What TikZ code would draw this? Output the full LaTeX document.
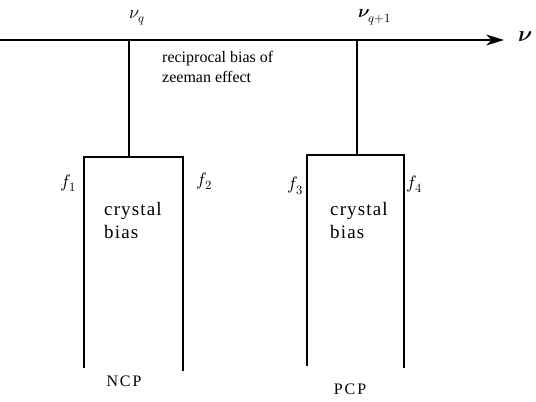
\documentclass[tikz,border=0pt]{standalone}
\usepackage{fontspec}
\usepackage{unicode-math}
\setmainfont{Liberation Serif}
\setmathfont{Latin Modern Math}
\newfontfamily\spaced[LetterSpace=12]{Liberation Serif}
\newfontfamily\crysfont[LetterSpace=6]{Liberation Serif}
\usetikzlibrary{arrows.meta}
\tikzset{
  ln/.style={line width=1.3pt},
  lbl/.style={font=\fontsize{16}{20}\selectfont, inner sep=0pt},
  crys/.style={font=\crysfont\fontsize{19}{23}\selectfont, inner sep=0pt},
  sym/.style={font=\fontsize{18}{20}\selectfont, inner sep=0pt},
  bigsym/.style={font=\fontsize{22}{24}\selectfont, inner sep=0pt},
}
\begin{document}
\begin{tikzpicture}[x=1pt,y=-1pt]
\useasboundingbox (0,0) rectangle (536,402);
% axis
\coordinate (a0) at (0,40);
\coordinate (a1) at (504,40);
\draw[ln,-{Stealth[length=18pt,width=11pt]}] (a0) -- (a1);
\node[bigsym] (nu) at (525,37) {$\symbfit{\nu}$};
\node[sym] (nuq) at (137,18) {$\nu_{q}$};
\node[sym] (nuq1) at (375,17) {$\symbfit{\nu}_{q+1}$};
% connection points
\coordinate (t1) at (129,40);
\coordinate (t2) at (357,40);
\coordinate (b1) at (129,157);
\coordinate (b2) at (357,155);
\draw[ln] (t1) -- (b1);
\draw[ln] (t2) -- (b2);
% left box
\coordinate (l1) at (84,368);
\coordinate (l2) at (84,157);
\coordinate (l3) at (183,157);
\coordinate (l4) at (183,371);
\draw[ln] (l1) -- (l2) -- (l3) -- (l4);
% right box
\coordinate (r1) at (307,366);
\coordinate (r2) at (307,155);
\coordinate (r3) at (404,155);
\coordinate (r4) at (404,368);
\draw[ln] (r1) -- (r2) -- (r3) -- (r4);
% labels
\node[lbl, align=left, anchor=north west] (zee) at (162,51) {reciprocal bias of\\zeeman effect};
\node[sym] (f1) at (68,183) {$f_{1}$};
\node[sym] (f2) at (204,181) {$f_{2}$};
\node[sym] (f3) at (295,186) {$f_{3}$};
\node[sym] (f4) at (414,184) {$f_{4}$};
\node[crys, align=left, anchor=north west] (c1) at (104,202) {crystal\\bias};
\node[crys, align=left, anchor=north west] (c2) at (330,202) {crystal\\bias};
\node[lbl] (ncp) at (124,381) {\spaced NCP};
\node[lbl] (pcp) at (350,389) {\spaced PCP};
\end{tikzpicture}
\end{document}
